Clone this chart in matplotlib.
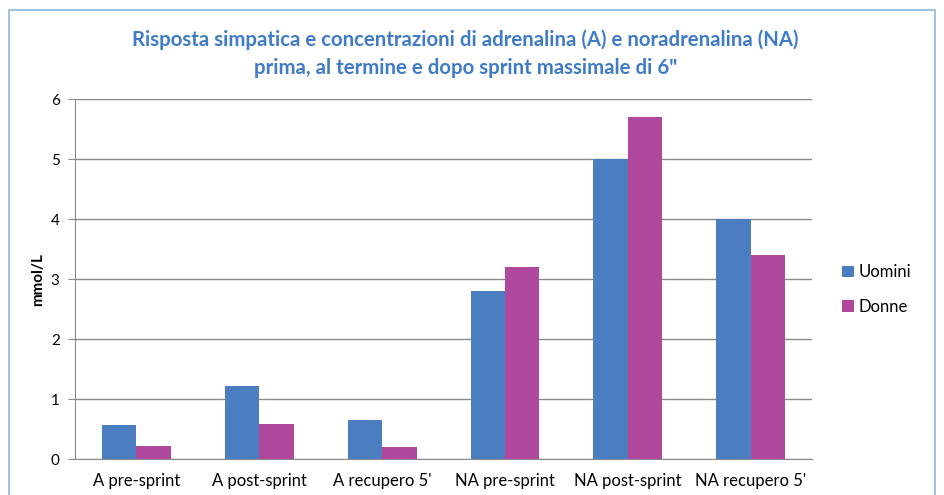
import matplotlib.pyplot as plt
import matplotlib.patches as mpatches
import numpy as np

categories = ["A pre-sprint", "A post-sprint", "A recupero 5'",
              "NA pre-sprint", "NA post-sprint", "NA recupero 5'"]
uomini = [0.57, 1.22, 0.65, 2.8, 5.0, 4.0]
donne = [0.22, 0.58, 0.20, 3.2, 5.7, 3.4]

plt.rcParams['font.family'] = ['Lato', 'DejaVu Sans']

fig = plt.figure(figsize=(9.44, 4.95), dpi=100)
ax = fig.add_axes([0.0794, 0.0727, 0.781, 0.727])

x = np.arange(len(categories))
w = 0.28
ax.bar(x - w / 2, uomini, w, color='#4A7EC0', label='Uomini', zorder=3)
ax.bar(x + w / 2, donne, w, color='#B0489E', label='Donne', zorder=3)

ax.set_xlim(-0.5, len(categories) - 0.5)
ax.set_ylim(0, 6)
ax.set_yticks(range(7))
ax.yaxis.grid(True, color='#8a8a8a', linewidth=1.0, zorder=0)
ax.set_xticks(x)
ax.set_xticklabels(categories, fontsize=12)
ax.tick_params(axis='x', length=0, pad=10)
ax.tick_params(axis='y', labelsize=11, length=5, color='#8a8a8a', pad=6)
for s in ['top', 'right']:
    ax.spines[s].set_visible(False)
for s in ['left', 'bottom']:
    ax.spines[s].set_color('#8a8a8a')
ax.set_ylabel("mmol/L", fontsize=11, fontweight='bold', labelpad=4)

fig.text(0.493, 0.92, "Risposta simpatica e concentrazioni di adrenalina (A) e noradrenalina (NA)",
         ha='center', va='center', fontsize=14.7, fontweight='bold', color='#3F7BC6')
fig.text(0.493, 0.862, "prima, al termine e dopo sprint massimale di 6\"",
         ha='center', va='center', fontsize=14.7, fontweight='bold', color='#3F7BC6')

fig.legend(loc='center left', bbox_to_anchor=(0.876, 0.415), frameon=False,
           fontsize=12, handlelength=0.7, handleheight=0.7, handletextpad=0.3,
           labelspacing=1.1)

fig.patches.append(mpatches.Rectangle((0.01, -0.05), 0.98, 1.03, transform=fig.transFigure,
                                      fill=False, edgecolor='#8DB4E2', linewidth=1.2))

plt.savefig("out.png")
